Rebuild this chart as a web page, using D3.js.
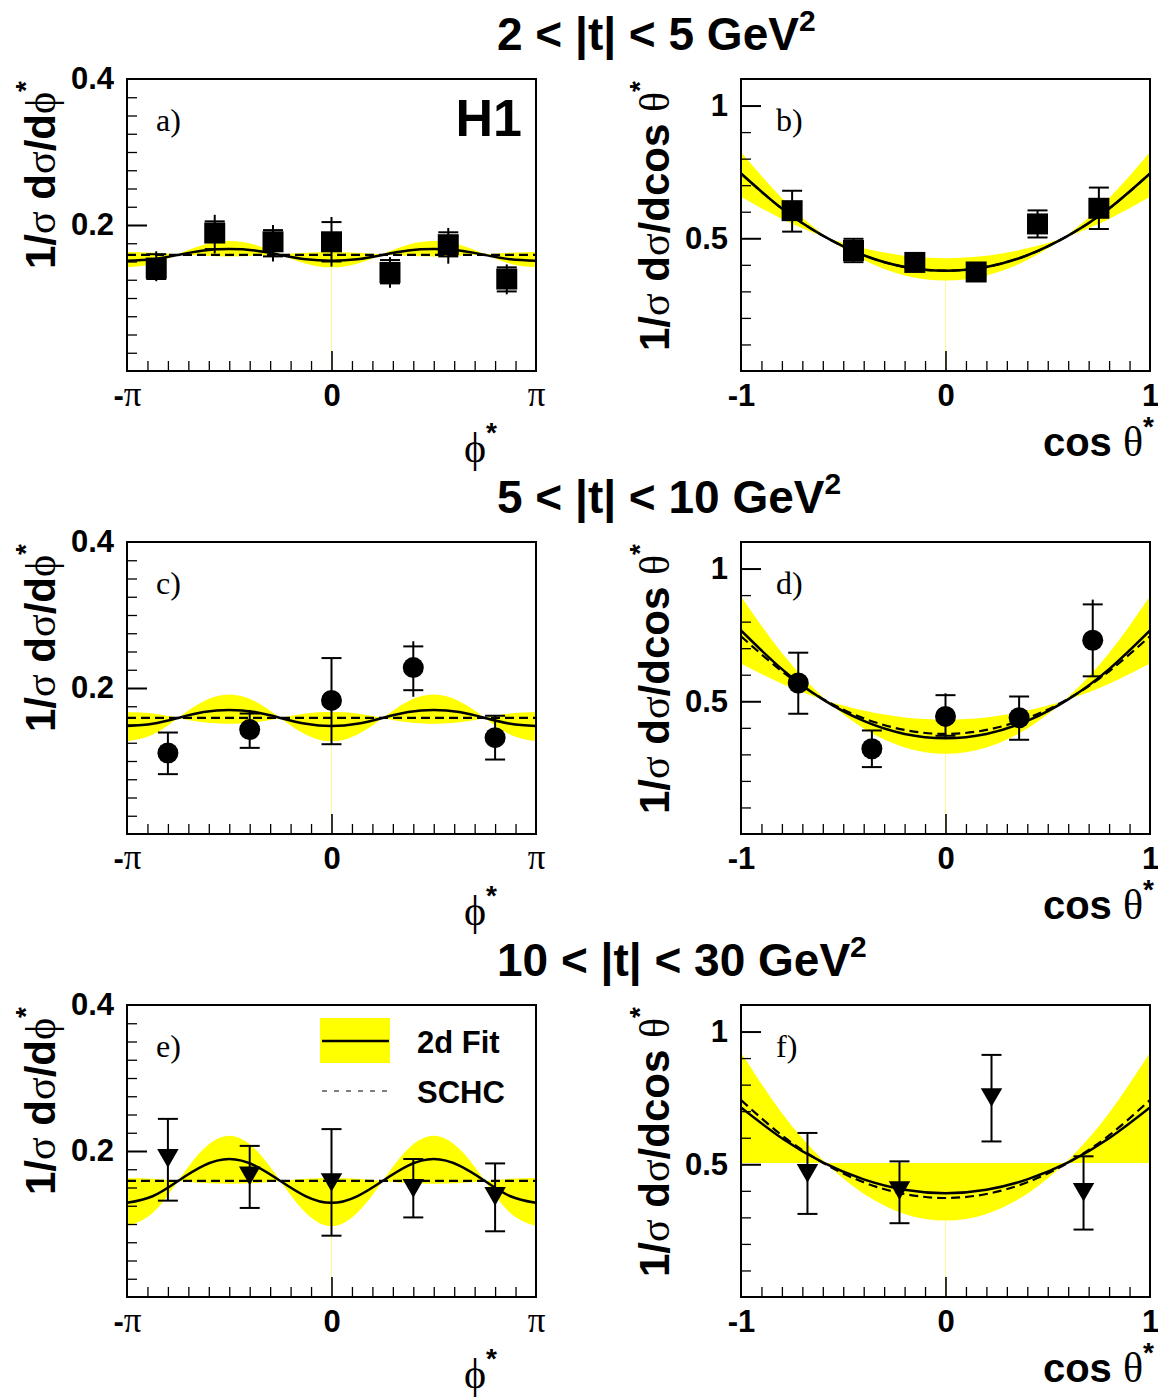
<!DOCTYPE html>
<html>
<head>
<meta charset="utf-8">
<script src="https://cdn.jsdelivr.net/npm/d3@7"></script>
<style>
body { margin: 0; background: #fff; }
svg text { font-family: "Liberation Sans", Arial, sans-serif; font-weight: bold; }
.greek { font-family: "Liberation Serif", "DejaVu Serif", serif; font-weight: normal; }
.lab { font-family: "Liberation Serif", "DejaVu Serif", serif; font-weight: normal; }
</style>
</head>
<body>
<svg id="fig" width="1158" height="1397"></svg>
<script>
// t ranges of the three rows
var rowTitles = ["2 < |t| < 5 GeV", "5 < |t| < 10 GeV", "10 < |t| < 30 GeV"];

// phi* is in units of pi, curves sampled every pi/8
var phiGrid = [-1, -0.875, -0.75, -0.625, -0.5, -0.375, -0.25, -0.125, 0,
               0.125, 0.25, 0.375, 0.5, 0.625, 0.75, 0.875, 1];
var phiEnds = [-1, 1];
var cosGrid = [-1, -0.8, -0.6, -0.4, -0.2, 0, 0.2, 0.4, 0.6, 0.8, 1];

// a) phi*, 2<|t|<5
var aX      = [-0.857, -0.571, -0.286, 0, 0.286, 0.571, 0.857];
var aY      = [0.141, 0.189, 0.177, 0.177, 0.135, 0.173, 0.126];
var aStatLo = [0.126, 0.167, 0.157, 0.150, 0.120, 0.157, 0.109];
var aStatHi = [0.160, 0.205, 0.193, 0.204, 0.152, 0.190, 0.142];
var aTotLo  = [0.123, 0.161, 0.150, 0.143, 0.114, 0.147, 0.105];
var aTotHi  = [0.164, 0.214, 0.200, 0.211, 0.156, 0.196, 0.146];
var aFit    = [0.151, 0.153, 0.159, 0.165, 0.167, 0.165, 0.159, 0.153, 0.151,
               0.153, 0.159, 0.165, 0.167, 0.165, 0.159, 0.153, 0.151];
var aBandA  = [0.163, 0.162, 0.160, 0.158, 0.157, 0.158, 0.160, 0.162, 0.163,
               0.162, 0.160, 0.158, 0.157, 0.158, 0.160, 0.162, 0.163];
var aBandB  = [0.142, 0.147, 0.160, 0.173, 0.178, 0.173, 0.160, 0.147, 0.142,
               0.147, 0.160, 0.173, 0.178, 0.173, 0.160, 0.147, 0.142];
var aSchc   = [0.159, 0.159];

// b) cos theta*, 2<|t|<5
var bX      = [-0.75, -0.45, -0.15, 0.15, 0.45, 0.75];
var bY      = [0.604, 0.454, 0.409, 0.373, 0.554, 0.613];
var bStatLo = [0.525, 0.410, 0.390, 0.355, 0.503, 0.535];
var bStatHi = [0.679, 0.498, 0.430, 0.390, 0.605, 0.691];
var bFit    = [0.744, 0.612, 0.510, 0.436, 0.392, 0.378, 0.392, 0.436, 0.510, 0.612, 0.744];
var bSchc   = [0.744, 0.612, 0.510, 0.436, 0.392, 0.378, 0.392, 0.436, 0.510, 0.612, 0.744];
var bBandA  = [0.825, 0.651, 0.515, 0.418, 0.360, 0.341, 0.360, 0.418, 0.515, 0.651, 0.825];
var bBandB  = [0.656, 0.573, 0.508, 0.462, 0.434, 0.425, 0.434, 0.462, 0.508, 0.573, 0.656];

// c) phi*, 5<|t|<10
var cX      = [-0.8, -0.4, 0, 0.4, 0.8];
var cY      = [0.111, 0.143, 0.183, 0.228, 0.132];
var cStatLo = [0.082, 0.118, 0.123, 0.197, 0.102];
var cStatHi = [0.139, 0.165, 0.241, 0.257, 0.162];
var cTotLo  = [0.082, 0.118, 0.123, 0.188, 0.102];
var cTotHi  = [0.139, 0.170, 0.241, 0.264, 0.162];
var cFit    = [0.148, 0.151, 0.159, 0.167, 0.170, 0.167, 0.159, 0.151, 0.148,
               0.151, 0.159, 0.167, 0.170, 0.167, 0.159, 0.151, 0.148];
var cBandA  = [0.167, 0.165, 0.159, 0.153, 0.151, 0.153, 0.159, 0.165, 0.167,
               0.165, 0.159, 0.153, 0.151, 0.153, 0.159, 0.165, 0.167];
var cBandB  = [0.127, 0.136, 0.159, 0.182, 0.191, 0.182, 0.159, 0.136, 0.127,
               0.136, 0.159, 0.182, 0.191, 0.182, 0.159, 0.136, 0.127];
var cSchc   = [0.159, 0.159];

// d) cos theta*, 5<|t|<10
var dX      = [-0.72, -0.36, 0, 0.36, 0.72];
var dY      = [0.569, 0.321, 0.443, 0.438, 0.730];
var dStatLo = [0.453, 0.252, 0.370, 0.355, 0.594];
var dStatHi = [0.683, 0.390, 0.523, 0.518, 0.865];
var dTotLo  = [0.453, 0.252, 0.365, 0.355, 0.594];
var dTotHi  = [0.683, 0.390, 0.530, 0.518, 0.883];
var dFit    = [0.767, 0.621, 0.507, 0.426, 0.377, 0.361, 0.377, 0.426, 0.507, 0.621, 0.767];
var dSchc   = [0.745, 0.613, 0.509, 0.436, 0.392, 0.377, 0.392, 0.436, 0.509, 0.613, 0.745];
var dBandA  = [0.896, 0.682, 0.516, 0.397, 0.326, 0.302, 0.326, 0.397, 0.516, 0.682, 0.896];
var dBandB  = [0.642, 0.566, 0.507, 0.465, 0.439, 0.431, 0.439, 0.465, 0.507, 0.566, 0.642];

// e) phi*, 10<|t|<30
var eX      = [-0.8, -0.4, 0, 0.4, 0.8];
var eY      = [0.190, 0.166, 0.157, 0.149, 0.138];
var eStatLo = [0.132, 0.122, 0.084, 0.109, 0.090];
var eStatHi = [0.244, 0.207, 0.230, 0.189, 0.183];
var eFit    = [0.129, 0.138, 0.159, 0.180, 0.189, 0.180, 0.159, 0.138, 0.129,
               0.138, 0.159, 0.180, 0.189, 0.180, 0.159, 0.138, 0.129];
var eBandA  = [0.163, 0.162, 0.159, 0.156, 0.155, 0.156, 0.159, 0.162, 0.163,
               0.162, 0.159, 0.156, 0.155, 0.156, 0.159, 0.162, 0.163];
var eBandB  = [0.097, 0.115, 0.159, 0.203, 0.221, 0.203, 0.159, 0.115, 0.097,
               0.115, 0.159, 0.203, 0.221, 0.203, 0.159, 0.115, 0.097];
var eSchc   = [0.159, 0.159];

// f) cos theta*, 10<|t|<30
var fX      = [-0.675, -0.225, 0.225, 0.675];
var fY      = [0.466, 0.401, 0.752, 0.395];
var fStatLo = [0.313, 0.278, 0.586, 0.254];
var fStatHi = [0.618, 0.511, 0.912, 0.530];
var fFit    = [0.714, 0.598, 0.507, 0.443, 0.404, 0.391, 0.404, 0.443, 0.507, 0.598, 0.714];
var fSchc   = [0.742, 0.609, 0.506, 0.432, 0.388, 0.373, 0.388, 0.432, 0.506, 0.609, 0.742];
var fBandA  = [0.505, 0.505, 0.505, 0.505, 0.505, 0.505, 0.505, 0.505, 0.505, 0.505, 0.505];
var fBandB  = [0.921, 0.693, 0.516, 0.389, 0.313, 0.288, 0.313, 0.389, 0.516, 0.693, 0.921];

var W = 409, H = 292;
var colX = [127, 741];
var rowY = [79, 542, 1005];

var svg = d3.select("#fig");

var panels = [
    {name: "a", kind: "phi", col: 0, row: 0, marker: "square",
     px: aX, py: aY, sLo: aStatLo, sHi: aStatHi, tLo: aTotLo, tHi: aTotHi,
     fit: aFit, bandA: aBandA, bandB: aBandB, schc: aSchc},
    {name: "b", kind: "cos", col: 1, row: 0, marker: "square",
     px: bX, py: bY, sLo: bStatLo, sHi: bStatHi, tLo: bStatLo, tHi: bStatHi,
     fit: bFit, bandA: bBandA, bandB: bBandB, schc: bSchc},
    {name: "c", kind: "phi", col: 0, row: 1, marker: "circle",
     px: cX, py: cY, sLo: cStatLo, sHi: cStatHi, tLo: cTotLo, tHi: cTotHi,
     fit: cFit, bandA: cBandA, bandB: cBandB, schc: cSchc},
    {name: "d", kind: "cos", col: 1, row: 1, marker: "circle",
     px: dX, py: dY, sLo: dStatLo, sHi: dStatHi, tLo: dTotLo, tHi: dTotHi,
     fit: dFit, bandA: dBandA, bandB: dBandB, schc: dSchc},
    {name: "e", kind: "phi", col: 0, row: 2, marker: "triangle",
     px: eX, py: eY, sLo: eStatLo, sHi: eStatHi, tLo: eStatLo, tHi: eStatHi,
     fit: eFit, bandA: eBandA, bandB: eBandB, schc: eSchc},
    {name: "f", kind: "cos", col: 1, row: 2, marker: "triangle",
     px: fX, py: fY, sLo: fStatLo, sHi: fStatHi, tLo: fStatLo, tHi: fStatHi,
     fit: fFit, bandA: fBandA, bandB: fBandB, schc: fSchc}
];

function addParts(sel, parts) {
    parts.forEach(function(pt) {
	var t = sel.append("tspan").text(pt[0]);
	if (pt[1] == "g") t.attr("class", "greek").attr("font-size", pt[2] || null);
	if (pt[1] == "sup") t.attr("font-size", 28).attr("dy", pt[2]);
    });
}

function drawPanel(p) {
    var isPhi = p.kind == "phi";
    var grid = isPhi ? phiGrid : cosGrid;
    var g = svg.append("g")
	.attr("transform", "translate(" + colX[p.col] + "," + rowY[p.row] + ")");
    var x = d3.scaleLinear().domain([-1, 1]).range([0, W]);
    var y = d3.scaleLinear().domain([0, isPhi ? 0.4 : 1.1]).range([H, 0]);

    g.append("clipPath").attr("id", "clip-" + p.name)
	.append("rect").attr("width", W).attr("height", H);
    var plot = g.append("g").attr("clip-path", "url(#clip-" + p.name + ")");

    // error band of the fit
    var band = d3.area().curve(d3.curveNatural)
	.x(function(d) { return x(d); })
	.y0(function(d, i) { return y(p.bandA[i]); })
	.y1(function(d, i) { return y(p.bandB[i]); });
    plot.append("path").datum(grid).attr("d", band).attr("fill", "#ffff00");

    var mid = grid.indexOf(0);
    plot.append("line")
	.attr("x1", x(0)).attr("x2", x(0))
	.attr("y1", y(Math.min(p.bandA[mid], p.bandB[mid]))).attr("y2", H)
	.attr("stroke", "#fbfb8c").attr("stroke-width", 1);

    var line = d3.line().curve(d3.curveNatural)
	.x(function(d) { return x(d[0]); })
	.y(function(d) { return y(d[1]); });
    plot.append("path")
	.datum(d3.zip(isPhi ? phiEnds : cosGrid, p.schc))
	.attr("d", line).attr("fill", "none").attr("stroke", "#000")
	.attr("stroke-width", 2.2).attr("stroke-dasharray", "9,5");
    plot.append("path")
	.datum(d3.zip(grid, p.fit))
	.attr("d", line).attr("fill", "none").attr("stroke", "#000")
	.attr("stroke-width", 2.5);

    // data points
    var pts = p.px.map(function(v, i) {
	return {x: v, y: p.py[i], sLo: p.sLo[i], sHi: p.sHi[i], tLo: p.tLo[i], tHi: p.tHi[i]};
    });
    var pg = g.append("g").selectAll("g").data(pts).join("g");
    pg.append("line")
	.attr("x1", function(d) { return x(d.x); }).attr("x2", function(d) { return x(d.x); })
	.attr("y1", function(d) { return y(d.tLo); }).attr("y2", function(d) { return y(d.tHi); })
	.attr("stroke", "#000").attr("stroke-width", 2);
    ["sLo", "sHi"].forEach(function(k) {
	pg.append("line")
	    .attr("x1", function(d) { return x(d.x) - 10; }).attr("x2", function(d) { return x(d.x) + 10; })
	    .attr("y1", function(d) { return y(d[k]); }).attr("y2", function(d) { return y(d[k]); })
	    .attr("stroke", "#000").attr("stroke-width", 2);
    });
    if (p.marker == "circle") {
	pg.append("circle")
	    .attr("cx", function(d) { return x(d.x); }).attr("cy", function(d) { return y(d.y); })
	    .attr("r", 10.5).attr("fill", "#000");
    } else if (p.marker == "square") {
	pg.append("path").attr("d", d3.symbol(d3.symbolSquare, 441))
	    .attr("transform", function(d) { return "translate(" + x(d.x) + "," + y(d.y) + ")"; })
	    .attr("fill", "#000");
    } else {
	pg.append("path").attr("d", d3.symbol(d3.symbolTriangle, 200))
	    .attr("transform", function(d) {
		return "translate(" + x(d.x) + "," + (y(d.y) - 3) + ") rotate(180)";
	    })
	    .attr("fill", "#000");
    }

    // axes, ticks pointing into the frame
    var xMinor = d3.range(-9, 10).filter(function(k) { return k != 0; })
	.map(function(k) { return k / 10; });
    var yMinor, yMajor;
    if (isPhi) {
	yMinor = d3.range(1, 16).filter(function(k) { return k != 8; })
	    .map(function(k) { return k * 0.025; });
	yMajor = [0.2];
    } else {
	yMinor = [0.1, 0.2, 0.3, 0.4, 0.6, 0.7, 0.8, 0.9];
	yMajor = [0.5, 1];
    }
    function ticks(axis, tr, vals, size, sw) {
	g.append("g").attr("transform", tr)
	    .call(axis.tickValues(vals).tickSize(size).tickFormat(""))
	    .call(function(s) {
		s.select(".domain").remove();
		s.selectAll("line").attr("stroke-width", sw);
	    });
    }
    ticks(d3.axisTop(x), "translate(0," + H + ")", xMinor, 10, 1.3);
    ticks(d3.axisTop(x), "translate(0," + H + ")", [0], 20, 1.6);
    ticks(d3.axisRight(y), "translate(0,0)", yMinor, 10, 1.3);
    ticks(d3.axisRight(y), "translate(0,0)", yMajor, 20, 2);

    // tick labels
    var xl = g.append("g").attr("transform", "translate(0," + H + ")")
	.call(d3.axisBottom(x).tickValues([-1, 0, 1]).tickSize(0).tickPadding(13));
    xl.select(".domain").remove();
    xl.attr("font-size", 31).attr("font-family", null);
    xl.selectAll("text").each(function(d) {
	var t = d3.select(this).text("");
	if (d < 0) t.append("tspan").text("-");
	if (d == 0) t.append("tspan").text("0");
	else if (isPhi) t.append("tspan").attr("class", "greek").attr("font-size", 35).text("π");
	else t.append("tspan").text("1");
    });
    var yl = g.append("g")
	.call(d3.axisLeft(y).tickValues(isPhi ? [0.2, 0.4] : [0.5, 1]).tickSize(0).tickPadding(13)
	      .tickFormat(function(d) { return String(d); }));
    yl.select(".domain").remove();
    yl.attr("font-size", 31).attr("font-family", null);

    g.append("rect").attr("width", W).attr("height", H)
	.attr("fill", "none").attr("stroke", "#000").attr("stroke-width", 2);

    // axis titles
    var yt = g.append("text")
	.attr("transform", "translate(-72,2) rotate(-90)")
	.attr("text-anchor", "end").attr("font-size", 42);
    if (isPhi) {
	addParts(yt, [["1/"], ["σ", "g"], [" d"], ["σ", "g"], ["/d"], ["ϕ", "g"], ["*", "sup", -20]]);
	var xt = g.append("text").attr("x", 370).attr("y", H + 91)
	    .attr("text-anchor", "end").attr("font-size", 42);
	addParts(xt, [["ϕ", "g"], ["*", "sup", -20]]);
    } else {
	addParts(yt, [["1/"], ["σ", "g"], [" d"], ["σ", "g"], ["/dcos "], ["θ", "g"], ["*", "sup", -20]]);
	var xt2 = g.append("text").attr("x", W + 4).attr("y", H + 85)
	    .attr("text-anchor", "end").attr("font-size", 40);
	addParts(xt2, [["cos "], ["θ", "g", 42], ["*", "sup", -20]]);
    }

    g.append("text").attr("class", "lab")
	.attr("x", isPhi ? 29 : 35).attr("y", 52)
	.attr("font-size", 32).text(p.name + ")");
    return g;
}

var drawn = panels.map(drawPanel);

// row titles
rowTitles.forEach(function(t, r) {
    var tt = svg.append("text").attr("x", 497).attr("y", rowY[r] - 29).attr("font-size", 46);
    tt.append("tspan").text(t);
    tt.append("tspan").attr("font-size", 30).attr("dy", -19).text("2");
});

// H1 logo
drawn[0].append("text").attr("x", 395).attr("y", 57)
    .attr("text-anchor", "end").attr("font-size", 52).text("H1");

// legend in panel e
var lg = drawn[4].append("g");
lg.append("rect").attr("x", 193).attr("y", 13).attr("width", 70).attr("height", 45)
    .attr("fill", "#ffff00");
lg.append("line").attr("x1", 195).attr("x2", 262).attr("y1", 36).attr("y2", 36)
    .attr("stroke", "#000").attr("stroke-width", 2.5);
lg.append("text").attr("x", 290).attr("y", 48).attr("font-size", 31).text("2d Fit");
lg.append("line").attr("x1", 195).attr("x2", 263).attr("y1", 86).attr("y2", 86)
    .attr("stroke", "#000").attr("stroke-width", 1.2).attr("stroke-dasharray", "5,7");
lg.append("text").attr("x", 290).attr("y", 98).attr("font-size", 31).text("SCHC");
</script>
</body>
</html>
